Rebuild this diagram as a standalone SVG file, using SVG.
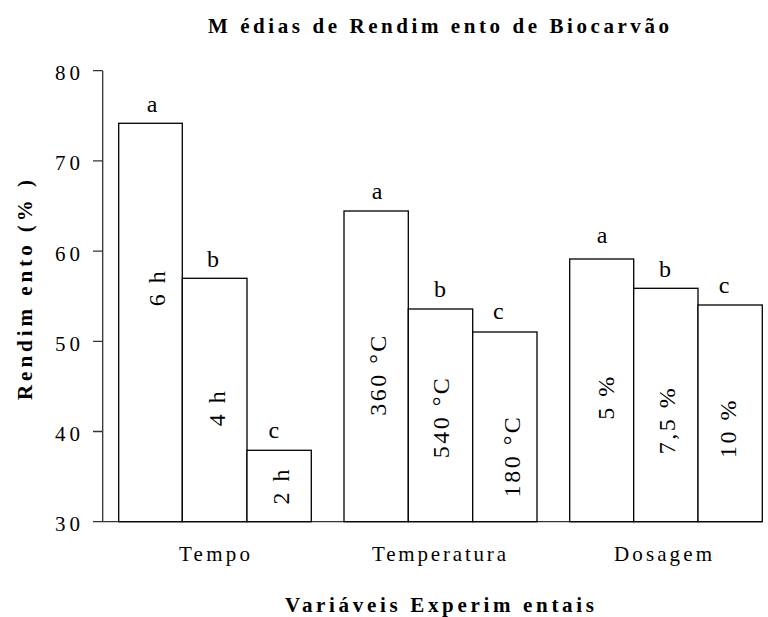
<svg xmlns="http://www.w3.org/2000/svg" width="768" height="617" viewBox="0 0 768 617" font-family="'Liberation Serif', 'Times New Roman', 'DejaVu Serif', serif">
<style>
  text { font-family: 'Liberation Serif', 'Times New Roman', 'DejaVu Serif', serif; fill: #000; }
  .title { font-size: 21px; font-weight: bold; }
  .tick { font-size: 21px; }
  .cat { font-size: 21px; }
  .sig { font-size: 24px; text-anchor: middle; }
  .in { font-size: 24px; text-anchor: middle; letter-spacing: 2.5px; }
  .bar { fill: #fff; stroke: #000; stroke-width: 1.3; }
  .ax { stroke: #333; stroke-width: 1.3; fill: none; }
</style>
<rect width="768" height="617" fill="#fff"/>
<text class="title" x="208" y="33" textLength="461" lengthAdjust="spacing">M édias de Rendim ento de Biocarvão</text>
<g id="axes">
  <path class="ax" d="M102.7 70.7 V521.7 M93 521.7 H762.3 M93 70.7 H102.7 M93 160.9 H102.7 M93 251.1 H102.7 M93 341.3 H102.7 M93 431.5 H102.7"/>
  <text class="tick" x="55" y="80.2" textLength="25" lengthAdjust="spacing">80</text>
  <text class="tick" x="55" y="170.4" textLength="25" lengthAdjust="spacing">70</text>
  <text class="tick" x="55" y="260.6" textLength="25" lengthAdjust="spacing">60</text>
  <text class="tick" x="55" y="350.8" textLength="25" lengthAdjust="spacing">50</text>
  <text class="tick" x="55" y="441" textLength="25" lengthAdjust="spacing">40</text>
  <text class="tick" x="55" y="531.2" textLength="25" lengthAdjust="spacing">30</text>
  <text class="title" transform="translate(32,400) rotate(-90)" x="0" y="0" textLength="220" lengthAdjust="spacing">Rendim ento (% )</text>
  <text class="title" x="285" y="612" textLength="309" lengthAdjust="spacing">Variáveis Experim entais</text>
  <text class="cat" x="179" y="560.5" textLength="71" lengthAdjust="spacing">Tempo</text>
  <text class="cat" x="372" y="560.5" textLength="134" lengthAdjust="spacing">Temperatura</text>
  <text class="cat" x="614" y="560.5" textLength="98" lengthAdjust="spacing">Dosagem</text>
</g>
<g id="bar-6h">
  <rect class="bar" x="118.7" y="123.3" width="63.6" height="398.4"/>
  <text class="sig" x="152" y="112">a</text>
  <text class="in" transform="translate(164.5,287.5) rotate(-90)">6 h</text>
</g>
<g id="bar-4h">
  <rect class="bar" x="182.3" y="278.3" width="64.7" height="243.4"/>
  <text class="sig" x="213" y="266.7">b</text>
  <text class="in" transform="translate(225,407.5) rotate(-90)">4 h</text>
</g>
<g id="bar-2h">
  <rect class="bar" x="247" y="450.3" width="64.3" height="71.4"/>
  <text class="sig" x="273.8" y="438.3">c</text>
  <text class="in" transform="translate(289,485.7) rotate(-90)">2 h</text>
</g>
<g id="bar-360">
  <rect class="bar" x="344" y="211" width="64.3" height="310.7"/>
  <text class="sig" x="377" y="199">a</text>
  <text class="in" transform="translate(386,374.5) rotate(-90)">360 °C</text>
</g>
<g id="bar-540">
  <rect class="bar" x="408.3" y="309" width="64.4" height="212.7"/>
  <text class="sig" x="440" y="296.7">b</text>
  <text class="in" transform="translate(449,417) rotate(-90)">540 °C</text>
</g>
<g id="bar-180">
  <rect class="bar" x="472.7" y="332" width="64.3" height="189.7"/>
  <text class="sig" x="498.3" y="319">c</text>
  <text class="in" transform="translate(520,456) rotate(-90)">180 °C</text>
</g>
<g id="bar-5">
  <rect class="bar" x="569.7" y="259" width="64" height="262.7"/>
  <text class="sig" x="602" y="243.3">a</text>
  <text class="in" transform="translate(614,397) rotate(-90)">5 %</text>
</g>
<g id="bar-7-5">
  <rect class="bar" x="633.7" y="288.3" width="64.3" height="233.4"/>
  <text class="sig" x="665" y="277.3">b</text>
  <text class="in" transform="translate(675,420) rotate(-90)">7,5 %</text>
</g>
<g id="bar-10">
  <rect class="bar" x="698" y="305" width="64.3" height="216.7"/>
  <text class="sig" x="724" y="293.3">c</text>
  <text class="in" transform="translate(736,428) rotate(-90)">10 %</text>
</g>
<g id="connectors"></g>
</svg>
